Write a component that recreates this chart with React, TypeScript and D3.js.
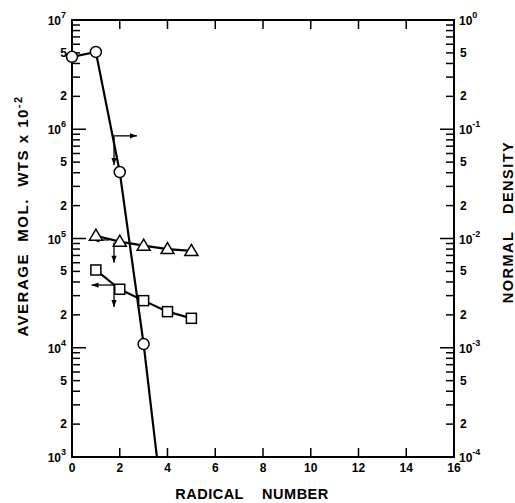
import React from "react";
import * as d3 from "d3";

// ---- data ----
const X_TICKS = [0, 2, 4, 6, 8, 10, 12, 14, 16];
const LEFT_DECADES = [3, 4, 5, 6, 7];
const RIGHT_DECADES = [-4, -3, -2, -1, 0];
const MINOR_LABELS = [2, 5];

const circleX = [0, 1, 2, 3, 4];
const circleY = [4.6e6, 5.1e6, 4.06e5, 1.08e4, 150];
const triangleX = [1, 2, 3, 4, 5];
const triangleY = [1.06e5, 9.35e4, 8.6e4, 8.0e4, 7.7e4];
const squareX = [1, 2, 3, 4, 5];
const squareY = [5.15e4, 3.43e4, 2.7e4, 2.14e4, 1.86e4];

// arrows [x0, y0, x1, y1] in data units (left axis)
const arrows: [number, number, number, number][] = [
  [1.8, 8.7e5, 2.72, 8.7e5],
  [1.76, 8.9e5, 1.76, 4.7e5],
  [1.55, 9.7e4, 0.85, 9.7e4],
  [1.76, 9.2e4, 1.76, 6.0e4],
  [1.9, 3.75e4, 0.82, 3.75e4],
  [1.76, 3.75e4, 1.76, 2.36e4],
];

const FONT = "'Liberation Sans', Arial, Helvetica, sans-serif";

export default function App() {
  const W = 515, H = 503;
  const L = 72, R = 454, T = 20, B = 457;
  const x = d3.scaleLinear().domain([0, 16]).range([L, R]);
  const yL = d3.scaleLog().domain([1e3, 1e7]).range([B, T]);
  const yR = d3.scaleLog().domain([1e-4, 1]).range([B, T]);

  const line = d3
    .line<[number, number]>()
    .x((d) => x(d[0]))
    .y((d) => yL(d[1]));

  const circ = circleX.map((v, i) => [v, circleY[i]] as [number, number]);
  const tri = triangleX.map((v, i) => [v, triangleY[i]] as [number, number]);
  const sq = squareX.map((v, i) => [v, squareY[i]] as [number, number]);

  const leftTicks: { v: number; major: boolean; m: number; d: number }[] = [];
  LEFT_DECADES.forEach((d) => {
    for (let m = 1; m <= 9; m++) {
      if (d === 7 && m > 1) break;
      leftTicks.push({ v: m * Math.pow(10, d), major: m === 1, m, d });
    }
  });
  const rightTicks: { v: number; major: boolean; m: number; d: number }[] = [];
  RIGHT_DECADES.forEach((d) => {
    for (let m = 1; m <= 9; m++) {
      if (d === 0 && m > 1) break;
      rightTicks.push({ v: m * Math.pow(10, d), major: m === 1, m, d });
    }
  });

  const inPlot = (p: [number, number]) => p[0] <= 16 && p[1] >= 1e3;

  const arrowHead = (x0: number, y0: number, x1: number, y1: number) => {
    const ang = Math.atan2(y1 - y0, x1 - x0);
    const len = 7, w = 2.6;
    const bx = x1 - len * Math.cos(ang), by = y1 - len * Math.sin(ang);
    const nx = -Math.sin(ang) * w, ny = Math.cos(ang) * w;
    return `M${x1},${y1}L${bx + nx},${by + ny}L${bx - nx},${by - ny}Z`;
  };

  return (
    <svg
      width={W}
      height={H}
      style={{ position: "absolute", left: 0, top: 0, background: "#fff" }}
      fontFamily={FONT}
      fontWeight="bold"
    >
      <defs>
        <clipPath id="plot">
          <rect x={L} y={T} width={R - L} height={B - T} />
        </clipPath>
      </defs>
      <rect width={W} height={H} fill="#fff" />

      {/* frame */}
      <rect x={L} y={T} width={R - L} height={B - T} fill="none" stroke="#000" strokeWidth={2} />

      {/* x ticks bottom and top */}
      {X_TICKS.map((t) => (
        <g key={"xt" + t}>
          <line x1={x(t)} x2={x(t)} y1={B} y2={B - 9} stroke="#000" strokeWidth={1.5} />
          <line x1={x(t)} x2={x(t)} y1={T} y2={T + 9} stroke="#000" strokeWidth={1.5} />
          <text x={x(t)} y={B + 15} textAnchor="middle" fontSize={12}>
            {t}
          </text>
        </g>
      ))}

      {/* left ticks */}
      {leftTicks.map((t, i) => (
        <line
          key={"lt" + i}
          x1={L}
          x2={L + (t.major ? 14 : 8)}
          y1={yL(t.v)}
          y2={yL(t.v)}
          stroke="#000"
          strokeWidth={1.5}
        />
      ))}
      {leftTicks
        .filter((t) => t.major || MINOR_LABELS.includes(t.m))
        .map((t, i) =>
          t.major ? (
            <text key={"ll" + i} x={L - 6} y={yL(t.v) + 5} textAnchor="end" fontSize={12}>
              10
              <tspan dy={-7} fontSize={9}>
                {t.d}
              </tspan>
            </text>
          ) : (
            <text key={"ll" + i} x={L - 5} y={yL(t.v) + 4} textAnchor="end" fontSize={12}>
              {t.m}
            </text>
          )
        )}

      {/* right ticks */}
      {rightTicks.map((t, i) => (
        <line
          key={"rt" + i}
          x1={R}
          x2={R - (t.major ? 14 : 8)}
          y1={yR(t.v)}
          y2={yR(t.v)}
          stroke="#000"
          strokeWidth={1.5}
        />
      ))}
      {rightTicks
        .filter((t) => t.major || MINOR_LABELS.includes(t.m))
        .map((t, i) =>
          t.major ? (
            <text key={"rl" + i} x={R + 5} y={yR(t.v) + 5} textAnchor="start" fontSize={12}>
              10
              <tspan dy={-7} fontSize={9}>
                {t.d === 0 ? "0" : "-" + Math.abs(t.d)}
              </tspan>
            </text>
          ) : (
            <text key={"rl" + i} x={R + 6} y={yR(t.v) + 4} textAnchor="start" fontSize={12}>
              {t.m}
            </text>
          )
        )}

      {/* data lines */}
      <g clipPath="url(#plot)" fill="none" stroke="#000" strokeWidth={2.2}>
        <path d={line(circ) || ""} />
        <path d={line(tri) || ""} />
        <path d={line(sq) || ""} />
      </g>

      {/* arrows */}
      {arrows.map((a, i) => {
        const x0 = x(a[0]), y0 = yL(a[1]), x1 = x(a[2]), y1 = yL(a[3]);
        return (
          <g key={"ar" + i}>
            <line x1={x0} y1={y0} x2={x1} y2={y1} stroke="#000" strokeWidth={1.3} />
            <path d={arrowHead(x0, y0, x1, y1)} fill="#000" />
          </g>
        );
      })}

      {/* markers */}
      {circ.filter(inPlot).map((p, i) => (
        <circle key={"c" + i} cx={x(p[0])} cy={yL(p[1])} r={5.5} fill="#fff" stroke="#000" strokeWidth={1.5} />
      ))}
      {tri.map((p, i) => {
        const cx = x(p[0]), cy = yL(p[1]);
        return (
          <path
            key={"t" + i}
            d={`M${cx},${cy - 6.5}L${cx + 6.5},${cy + 4.5}L${cx - 6.5},${cy + 4.5}Z`}
            fill="#fff"
            stroke="#000"
            strokeWidth={1.5}
          />
        );
      })}
      {sq.map((p, i) => (
        <rect
          key={"s" + i}
          x={x(p[0]) - 5}
          y={yL(p[1]) - 5}
          width={10}
          height={10}
          fill="#fff"
          stroke="#000"
          strokeWidth={1.5}
        />
      ))}

      {/* axis titles */}
      <text
        transform={`translate(28,${216}) rotate(-90)`}
        textAnchor="middle"
        fontSize={15}
        letterSpacing={1.5}
      >
        AVERAGE{"\u00a0\u00a0"}MOL.{"\u00a0\u00a0"}WTS x 10
        <tspan dy={-6} fontSize={11}>
          -2
        </tspan>
      </text>
      <text
        transform={`translate(513,${222}) rotate(-90)`}
        textAnchor="middle"
        fontSize={14.5}
        letterSpacing={1.5}
      >
        NORMAL{"\u00a0\u00a0\u00a0"}DENSITY
      </text>
      <text x={252} y={499} textAnchor="middle" fontSize={14.5} letterSpacing={0.5}>
        RADICAL{"\u00a0\u00a0\u00a0\u00a0"}NUMBER
      </text>
    </svg>
  );
}
